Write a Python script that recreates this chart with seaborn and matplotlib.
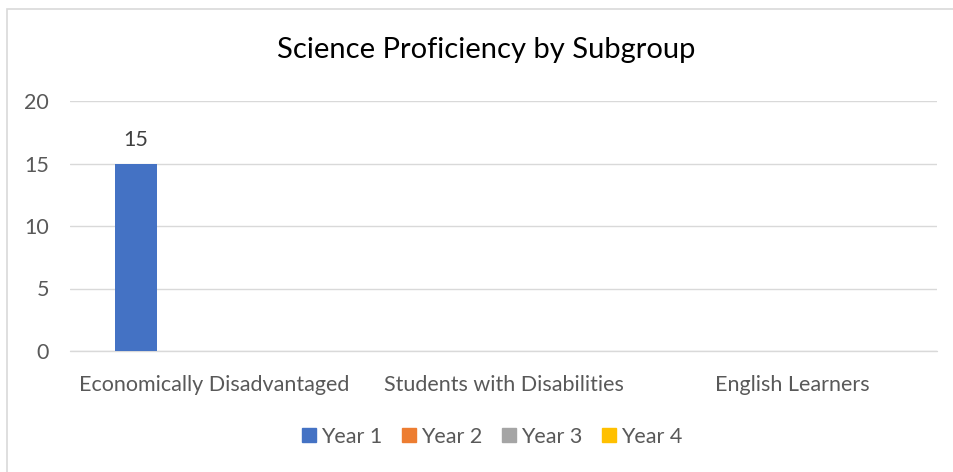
import numpy as np
import pandas as pd
import seaborn as sns
import matplotlib.pyplot as plt
from matplotlib.patches import Rectangle
from matplotlib.lines import Line2D

# chart data
subgroups = ["Economically Disadvantaged", "Students with Disabilities", "English Learners"]
years = ["Year 1", "Year 2", "Year 3", "Year 4"]
year1 = [15, 0, 0]
year2 = [0, 0, 0]
year3 = [0, 0, 0]
year4 = [0, 0, 0]
colors = ["#4472C4", "#ED7D31", "#A5A5A5", "#FFC000"]
yticks = [0, 5, 10, 15, 20]

df = pd.DataFrame({
    "Subgroup": subgroups * 4,
    "Year": np.repeat(years, len(subgroups)),
    "Proficiency": year1 + year2 + year3 + year4,
})

sns.set_style("white")
plt.rcParams["font.family"] = ["Lato", "DejaVu Sans"]
text_col = "#595959"
fs = 15.5

fig = plt.figure(figsize=(9.54, 4.72), dpi=100)
W, H = 954, 472
ax = fig.add_axes([70 / W, 1 - 351 / H, (937 - 70) / W, (351 - 101) / H])

sns.barplot(data=df, x="Subgroup", y="Proficiency", hue="Year", hue_order=years,
            palette=colors, saturation=1, width=0.725, gap=0.21, linewidth=0,
            legend=False, ax=ax)

for cont in ax.containers:
    labels = [f"{v:g}" if v > 0 else "" for v in cont.datavalues]
    ax.bar_label(cont, labels=labels, padding=10, fontsize=fs, color="#404040")

ax.set_ylim(0, 20)
ax.set_yticks(yticks)
ax.set_xlim(-0.5, 2.5)
ax.grid(axis="y", color="#D9D9D9", linewidth=1)
ax.axhline(0, color="#D9D9D9", linewidth=1, clip_on=False, zorder=0)
ax.set_axisbelow(True)
for s in ax.spines.values():
    s.set_visible(False)
ax.tick_params(axis="y", length=0, pad=15, labelsize=fs, labelcolor=text_col)
ax.tick_params(axis="x", length=0, pad=17, labelsize=fs, labelcolor=text_col)
ax.set_xlabel("")
ax.set_ylabel("")

fig.text(486 / W, 1 - 50 / H, "Science Proficiency by Subgroup", ha="center", va="center",
         fontsize=21, color="#000000")

handles = [Line2D([], [], marker="s", linestyle="", markersize=10, color=c) for c in colors]
fig.legend(handles, years, loc="center", bbox_to_anchor=(491 / W, 1 - 437 / H), ncol=4,
           frameon=False, fontsize=fs, labelcolor=text_col, handletextpad=0.1,
           columnspacing=0.8, handlelength=0.9)

# chart border
fig.patches.append(Rectangle((7 / W, -0.1), 1.1, 1 - 9 / H + 0.1, transform=fig.transFigure,
                             fill=False, edgecolor="#D9D9D9", linewidth=1.2))

fig.savefig("out.png", dpi=100)
